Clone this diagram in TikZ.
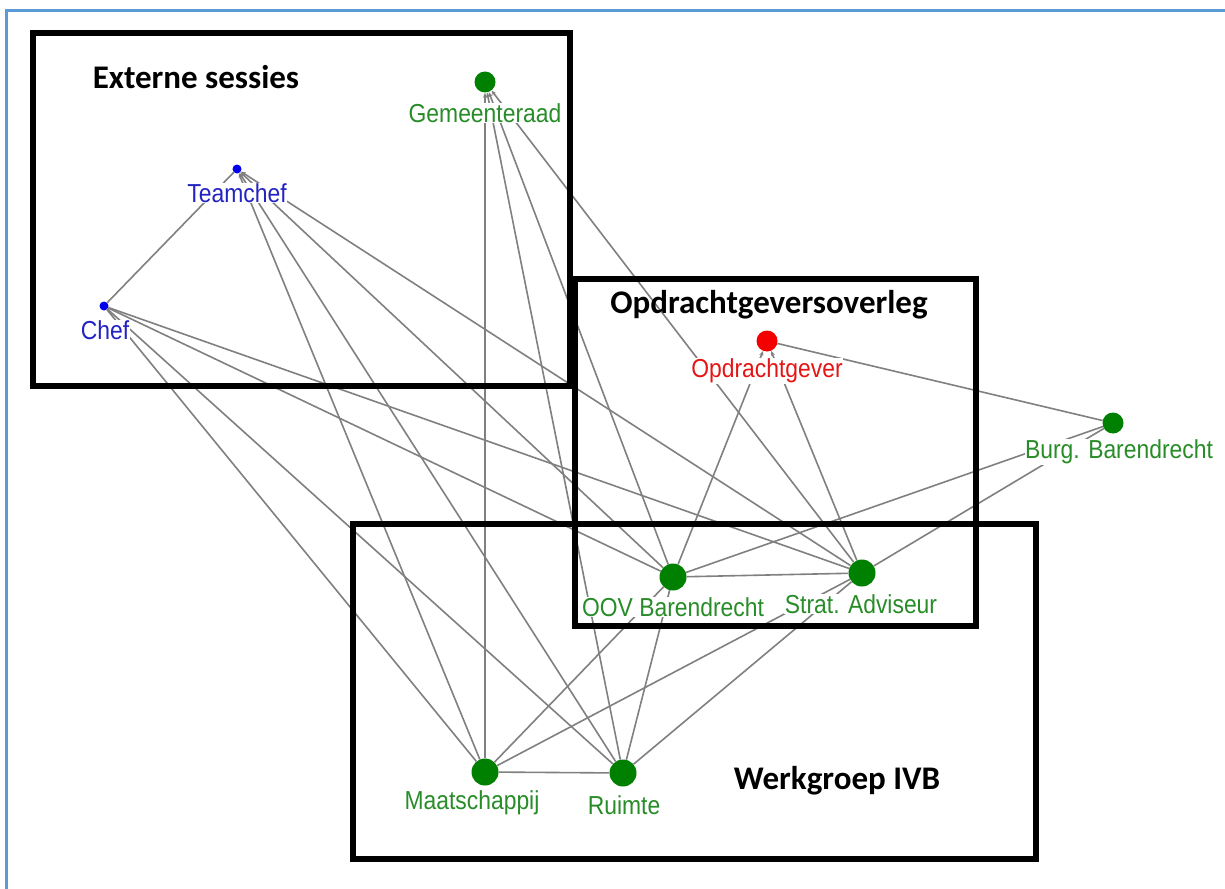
\documentclass[tikz,border=0pt]{standalone}
\usepackage{fontspec}
\setmainfont{Liberation Sans}
\newfontfamily\titlefont{Carlito}
\usetikzlibrary{arrows.meta}

\definecolor{nodegreen}{RGB}{0,128,0}
\definecolor{labelgreen}{RGB}{40,140,40}
\definecolor{nodeblue}{RGB}{0,0,235}
\definecolor{labelblue}{RGB}{35,35,195}
\definecolor{nodered}{RGB}{245,0,0}
\definecolor{labelred}{RGB}{230,20,20}
\definecolor{edgegray}{RGB}{128,128,128}
\definecolor{frameblue}{RGB}{91,155,213}

% narrow setting for the actor names
\newcommand\condensedname[1]{\scalebox{0.88}[1]{#1}}

\begin{document}
\begin{tikzpicture}[x=1pt,y=-1pt,
  dot/.style={circle,inner sep=0pt,minimum size=#1},
  lbl/.style={font=\fontsize{26}{28}\selectfont,fill=white,inner sep=0.6pt},
  link/.style={draw=edgegray,line width=1.6pt},
  tolink/.style={link,-{Stealth[length=5pt,width=4pt]}},
  groupbox/.style={draw=black,line width=5.5pt},
  grouptitle/.style={font=\titlefont\bfseries\fontsize{33}{35}\selectfont,inner sep=0pt}]

\useasboundingbox (0,0) rectangle (1225,888);
\fill[white] (0,0) rectangle (1225,888);

% outer frame (only the left and top edges fall inside the page)
\draw[frameblue,line width=3pt] (6.5,900) -- (6.5,11) -- (1240,11);

% actors
\node[dot=21pt,fill=nodegreen] (gem)   at (485,82)  {};
\node[dot=9pt, fill=nodeblue]  (team)  at (237,169) {};
\node[dot=9pt, fill=nodeblue]  (chef)  at (104,306) {};
\node[dot=21pt,fill=nodered]   (opd)   at (767,341) {};
\node[dot=21pt,fill=nodegreen] (burg)  at (1113,423) {};
\node[dot=27pt,fill=nodegreen] (oov)   at (673,577) {};
\node[dot=27pt,fill=nodegreen] (strat) at (862,573) {};
\node[dot=27pt,fill=nodegreen] (maat)  at (485,772) {};
\node[dot=27pt,fill=nodegreen] (ruim)  at (623,773) {};

% relations
\draw[link] (team) -- (chef);
\foreach \s in {maat,ruim,oov,strat} {
  \draw[tolink] (\s) -- (team);
  \draw[link] (chef) -- (\s);
  \draw[tolink] (\s) -- (gem);
}
\draw[tolink] (oov) -- (opd);
\draw[tolink] (strat) -- (opd);
\draw[link] (opd) -- (burg);
\draw[link] (burg) -- (oov);
\draw[link] (burg) -- (strat);
\draw[link] (oov) -- (strat);
\draw[link] (oov) -- (maat);
\draw[link] (oov) -- (ruim);
\draw[link] (strat) -- (maat);
\draw[link] (strat) -- (ruim);
\draw[link] (maat) -- (ruim);

% actor names
\node[lbl,text=labelgreen] (gemL)   at (485,113) {\condensedname{Gemeenteraad}};
\node[lbl,text=labelblue]  (teamL)  at (237,193) {\condensedname{Teamchef}};
\node[lbl,text=labelblue]  (chefL)  at (105,330) {\condensedname{Chef}};
\node[lbl,text=labelred]   (opdL)   at (767,371) {\condensedname{Opdrachtgever}};
\node[lbl,text=labelgreen] (burgL)  at (1119,452) {\condensedname{Burg. Barendrecht}};
\node[lbl,text=labelgreen] (oovL)   at (673,607) {\condensedname{OOV Barendrecht}};
\node[lbl,text=labelgreen] (stratL) at (861,604) {\condensedname{Strat. Adviseur}};
\node[lbl,text=labelgreen] (maatL)  at (472,803) {\condensedname{Maatschappij}};
\node[lbl,text=labelgreen] (ruimL)  at (624,805) {\condensedname{Ruimte}};

% meeting groups
\draw[groupbox] (33,33) rectangle (570,386);
\draw[groupbox] (575,279) rectangle (976,626);
\draw[groupbox] (353,524) rectangle (1036,859);

\node[grouptitle] (extT)  at (196,77)  {Externe sessies};
\node[grouptitle] (opdT)  at (769,305) {Opdrachtgeversoverleg};
\node[grouptitle] (werkT) at (837,781) {Werkgroep IVB};
\end{tikzpicture}
\end{document}
